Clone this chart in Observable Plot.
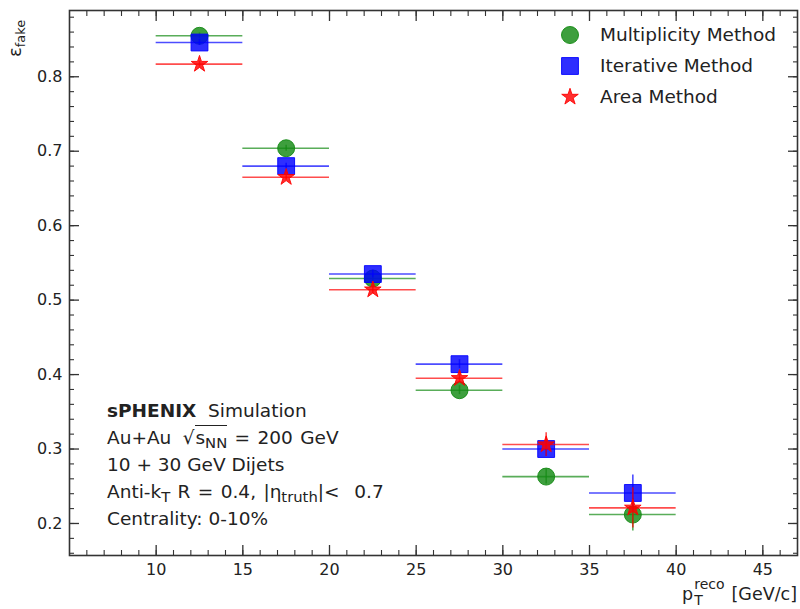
<!DOCTYPE html>
<html>
<head>
<meta charset="utf-8">
<script src="https://cdn.jsdelivr.net/npm/d3@7"></script>
<script src="https://cdn.jsdelivr.net/npm/@observablehq/plot@0.6"></script>
<style>
  html, body { margin: 0; padding: 0; background: #fff; }
  #chart { position: relative; width: 800px; height: 609px; font-family: "DejaVu Sans", sans-serif; color: #222; }
  #chart > svg { position: absolute; left: 0; top: 0; }
  .note { position: absolute; left: 107px; top: 397px; font-size: 18.5px; line-height: 27px; white-space: nowrap; }
  .note sub { font-size: 0.8em; vertical-align: -0.25em; line-height: 0; }
  .note .wide { word-spacing: 1.5px; }
  .rad { margin-left: 4px; }
  .root { border-top: 1.3px solid #222; padding-top: 1px; margin-left: 1px; }
  .legend { position: absolute; left: 558px; top: 19px; font-size: 18.5px; }
  .legend .row { display: flex; align-items: center; height: 31px; }
  .legend svg { margin-right: 18px; }
  .ylab { position: absolute; left: 4px; top: 57px; transform-origin: 0 0; transform: rotate(-90deg); font-size: 18px; white-space: nowrap; }
  .ylab sub { font-size: 0.72em; vertical-align: -0.3em; line-height: 0; }
  .xlab { position: absolute; right: 3px; top: 577px; font-size: 17.5px; white-space: nowrap; }
  .xlab .ss { display: inline-block; vertical-align: -0.36em; font-size: 0.8em; line-height: 1.12em; margin-left: 1px; margin-right: 7px; }
  .xlab .ss span { display: block; }
</style>
</head>
<body>
<div id="chart"></div>
<script>
// pT^reco bin centres and half-widths (GeV/c)
const binCenter = [12.5, 17.5, 22.5, 27.5, 32.5, 37.5];
const binHalfWidth = [2.5, 2.5, 2.5, 2.5, 2.5, 2.5];

// fake rate per method
const multiplicity = [0.855, 0.704, 0.529, 0.379, 0.263, 0.212];
const multiplicityErr = [0.004, 0.004, 0.005, 0.006, 0.010, 0.022];
const iterative = [0.846, 0.680, 0.535, 0.414, 0.300, 0.241];
const iterativeErr = [0.004, 0.004, 0.005, 0.006, 0.010, 0.024];
const area = [0.817, 0.665, 0.514, 0.395, 0.306, 0.221];
const areaErr = [0.004, 0.004, 0.005, 0.006, 0.016, 0.027];

const methodNames = ["Multiplicity Method", "Iterative Method", "Area Method"];
const methodColors = ["#138a13", "#0000ff", "#ff0000"];
const methodSymbols = ["circle", "square", "star"];
const methodRadius = [8.5, 9.5, 5.2];

// axis ticks
const xTickLabels = [10, 15, 20, 25, 30, 35, 40, 45];
const xMinorTicks = d3.range(6, 47, 1);
const yTickLabels = [0.2, 0.3, 0.4, 0.5, 0.6, 0.7, 0.8];
const yMinorTicks = d3.range(16, 89, 2).map(v => v / 100);

const seriesValues = [multiplicity, iterative, area];
const seriesErrors = [multiplicityErr, iterativeErr, areaErr];

const rows = [];
methodNames.forEach((m, i) => {
  binCenter.forEach((x, j) => {
    rows.push({method: m, idx: i, x, xerr: binHalfWidth[j], y: seriesValues[i][j], yerr: seriesErrors[i][j]});
  });
});

const seriesMarks = methodNames.flatMap((m, i) => {
  const data = rows.filter(d => d.idx === i);
  const c = methodColors[i];
  return [
    Plot.ruleY(data, {y: "y", x1: d => d.x - d.xerr, x2: d => d.x + d.xerr, stroke: c, strokeOpacity: 0.7, strokeWidth: 1.6}),
    Plot.ruleX(data, {x: "x", y1: d => d.y - d.yerr, y2: d => d.y + d.yerr, stroke: c, strokeOpacity: 0.7, strokeWidth: 1.6}),
    Plot.dot(data, {x: "x", y: "y", symbol: methodSymbols[i], r: methodRadius[i], fill: c, fillOpacity: 0.82, stroke: c, strokeOpacity: 0.9, strokeWidth: 1})
  ];
});

const tickAxes = [
  Plot.axisX(xTickLabels, {anchor: "bottom", tickSize: -10, fill: "none", label: null, strokeWidth: 1.3, stroke: "#333"}),
  Plot.axisX(xMinorTicks, {anchor: "bottom", tickSize: -5, fill: "none", label: null, strokeWidth: 1.1, stroke: "#333"}),
  Plot.axisX(xTickLabels, {anchor: "top", tickSize: -10, fill: "none", label: null, strokeWidth: 1.3, stroke: "#333"}),
  Plot.axisX(xMinorTicks, {anchor: "top", tickSize: -5, fill: "none", label: null, strokeWidth: 1.1, stroke: "#333"}),
  Plot.axisY(yTickLabels, {anchor: "left", tickSize: -10, fill: "none", label: null, strokeWidth: 1.3, stroke: "#333"}),
  Plot.axisY(yMinorTicks, {anchor: "left", tickSize: -5, fill: "none", label: null, strokeWidth: 1.1, stroke: "#333"}),
  Plot.axisY(yTickLabels, {anchor: "right", tickSize: -10, fill: "none", label: null, strokeWidth: 1.3, stroke: "#333"}),
  Plot.axisY(yMinorTicks, {anchor: "right", tickSize: -5, fill: "none", label: null, strokeWidth: 1.1, stroke: "#333"}),
  Plot.axisX(xTickLabels, {anchor: "bottom", tickSize: 0, tickPadding: 8, label: null, tickFormat: d => String(d), fill: "#222"}),
  Plot.axisY(yTickLabels, {anchor: "left", tickSize: 0, tickPadding: 7, label: null, tickFormat: d3.format(".1f"), fill: "#222"})
];

const chart = Plot.plot({
  width: 800,
  height: 609,
  marginLeft: 69,
  marginTop: 10,
  marginRight: 3,
  marginBottom: 54,
  x: {domain: [5, 47]},
  y: {domain: [0.157, 0.889]},
  style: {fontFamily: "DejaVu Sans", fontSize: "16px", color: "#222", background: "#fff"},
  marks: [
    ...seriesMarks,
    ...tickAxes,
    Plot.frame({stroke: "#333", strokeWidth: 1.6})
  ]
});

const root = document.getElementById("chart");
root.appendChild(chart);

// legend
const legend = document.createElement("div");
legend.className = "legend";
methodNames.forEach((m, i) => {
  const row = document.createElement("div");
  row.className = "row";
  const sz = 24;
  const sym = d3.symbol(
    {circle: d3.symbolCircle, square: d3.symbolSquare, star: d3.symbolStar}[methodSymbols[i]],
    Math.PI * methodRadius[i] * methodRadius[i]
  )();
  row.innerHTML = `<svg width="${sz}" height="${sz}" viewBox="${-sz / 2} ${-sz / 2} ${sz} ${sz}"><path d="${sym}" fill="${methodColors[i]}" fill-opacity="0.82" stroke="${methodColors[i]}" stroke-opacity="0.9"/></svg><span>${m}</span>`;
  legend.appendChild(row);
});
root.appendChild(legend);

// annotation block
const note = document.createElement("div");
note.className = "note";
note.innerHTML = `<div><b>sPHENIX</b>&nbsp; Simulation</div>
<div class="wide">Au+Au <span class="rad">√</span><span class="root">s<sub>NN</sub></span> = 200 GeV</div>
<div>10 + 30 GeV Dijets</div>
<div class="wide">Anti-k<sub>T</sub> R = 0.4, |η<sub>truth</sub>|&lt;&nbsp; 0.7</div>
<div>Centrality: 0-10%</div>`;
root.appendChild(note);

// axis titles
const ylab = document.createElement("div");
ylab.className = "ylab";
ylab.innerHTML = "ε<sub>fake</sub>";
root.appendChild(ylab);

const xlab = document.createElement("div");
xlab.className = "xlab";
xlab.innerHTML = `p<span class="ss"><span>reco</span><span>T</span></span>[GeV/c]`;
root.appendChild(xlab);
</script>
</body>
</html>
